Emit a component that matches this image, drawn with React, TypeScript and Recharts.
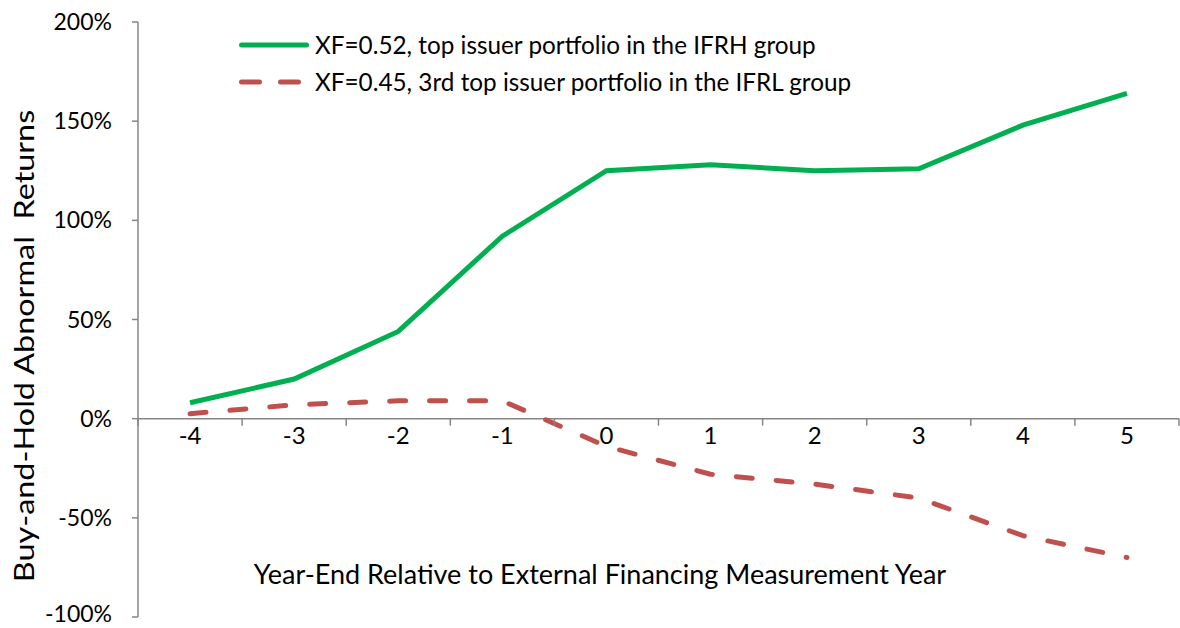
import { LineChart, Line, XAxis, YAxis, ReferenceLine } from 'recharts';

// years relative to the external financing measurement year
const years = ['-4', '-3', '-2', '-1', '0', '1', '2', '3', '4', '5'];
// buy-and-hold abnormal returns, in %
const topIssuerIFRH = [8, 20, 44, 92, 125, 128, 125, 126, 148, 164];
const thirdIssuerIFRL = [2.5, 7, 9, 9, -14, -28, -33, -40, -59, -70];
const yTicks = [-100, -50, 0, 50, 100, 150, 200];

const seriesNames = [
  'XF=0.52, top issuer portfolio in the IFRH group',
  'XF=0.45, 3rd top issuer portfolio in the IFRL group',
];

const data = years.map((year, i) => ({
  year,
  high: topIssuerIFRH[i],
  low: thirdIssuerIFRL[i],
}));

const W = 1180;
const H = 628;
const M = { top: 22, right: 1, bottom: 0, left: 0 };
const X_AXIS_H = 11;
const Y_AXIS_W = 138;
const Y_MIN = -100;
const Y_MAX = 200;
const PLOT_H = H - M.top - M.bottom - X_AXIS_H;
// pixel row of the 0% line inside the svg
const ZERO_Y = M.top + (PLOT_H * Y_MAX) / (Y_MAX - Y_MIN);
const BAND = (W - M.left - M.right - Y_AXIS_W) / years.length;

const AXIS = '#868686';
const GREEN = '#00b050';
const RED = '#c0504d';
const FONT = 'Lato, "Open Sans", sans-serif';

function YearTick(props: any) {
  const { x, payload, index } = props;
  const last = index === years.length - 1;
  return (
    <g>
      <line x1={x - BAND / 2} x2={x - BAND / 2} y1={ZERO_Y} y2={ZERO_Y + 7} stroke={AXIS} strokeWidth={1.5} />
      {last && (
        <line x1={x + BAND / 2} x2={x + BAND / 2} y1={ZERO_Y} y2={ZERO_Y + 7} stroke={AXIS} strokeWidth={1.5} />
      )}
      <text x={x} y={ZERO_Y + 25} textAnchor="middle" fill="#000" fontSize={24} fontFamily={FONT}>
        {payload.value}
      </text>
    </g>
  );
}

// keeps the lowest label (-100%) inside the picture
function PctTick(props: any) {
  const { x, y, payload } = props;
  return (
    <text x={x} y={Math.min(y, H - 14)} dy="0.355em" textAnchor="end" fill="#000" fontSize={23} fontFamily={FONT}>
      {`${payload.value}%`}
    </text>
  );
}

export default function App() {
  return (
    <div style={{ position: 'absolute', left: 0, top: 0, width: W, height: H, background: '#fff', fontFamily: FONT }}>
      <LineChart width={W} height={H} data={data} margin={M}>
        <XAxis
          dataKey="year"
          height={X_AXIS_H}
          axisLine={false}
          tickLine={false}
          interval={0}
          padding={{ left: BAND / 2, right: BAND / 2 }}
          tick={<YearTick />}
        />
        <YAxis
          width={Y_AXIS_W}
          domain={[Y_MIN, Y_MAX]}
          ticks={yTicks}
          interval={0}
          stroke={AXIS}
          strokeWidth={1.5}
          tickSize={6}
          tickMargin={20}
          tick={<PctTick />}
        />
        <ReferenceLine y={0} stroke={AXIS} strokeWidth={1.5} />
        <Line
          dataKey="high"
          name={seriesNames[0]}
          stroke={GREEN}
          strokeWidth={5}
          dot={false}
          isAnimationActive={false}
        />
        <Line
          dataKey="low"
          name={seriesNames[1]}
          stroke={RED}
          strokeWidth={5}
          strokeDasharray="16 24"
          strokeLinecap="round"
          dot={false}
          isAnimationActive={false}
        />
      </LineChart>

      {/* legend */}
      <div style={{ position: 'absolute', left: 238, top: 26, fontSize: 24.3, lineHeight: '37px', color: '#000' }}>
        <div style={{ display: 'flex', alignItems: 'center' }}>
          <svg width={77} height={10}>
            <line x1={3.5} x2={68.5} y1={5} y2={5} stroke={GREEN} strokeWidth={5} strokeLinecap="round" />
          </svg>
          <span>{seriesNames[0]}</span>
        </div>
        <div style={{ display: 'flex', alignItems: 'center' }}>
          <svg width={77} height={10}>
            <line x1={3.5} x2={60.5} y1={5} y2={5} stroke={RED} strokeWidth={5} strokeDasharray="18 21" strokeLinecap="round" />
          </svg>
          <span>{seriesNames[1]}</span>
        </div>
      </div>

      {/* axis titles */}
      <div style={{ position: 'absolute', left: 0, width: 1200, top: 557, textAlign: 'center', fontSize: 27, color: '#000' }}>
        Year-End Relative to External Financing Measurement Year
      </div>
      <div
        style={{
          position: 'absolute',
          left: 23,
          top: 346,
          transform: 'translate(-50%, -50%) rotate(-90deg) scaleX(1.2)',
          whiteSpace: 'pre',
          fontSize: 27,
          color: '#000',
        }}
      >
        {'Buy-and-Hold Abnormal  Returns'}
      </div>
    </div>
  );
}
